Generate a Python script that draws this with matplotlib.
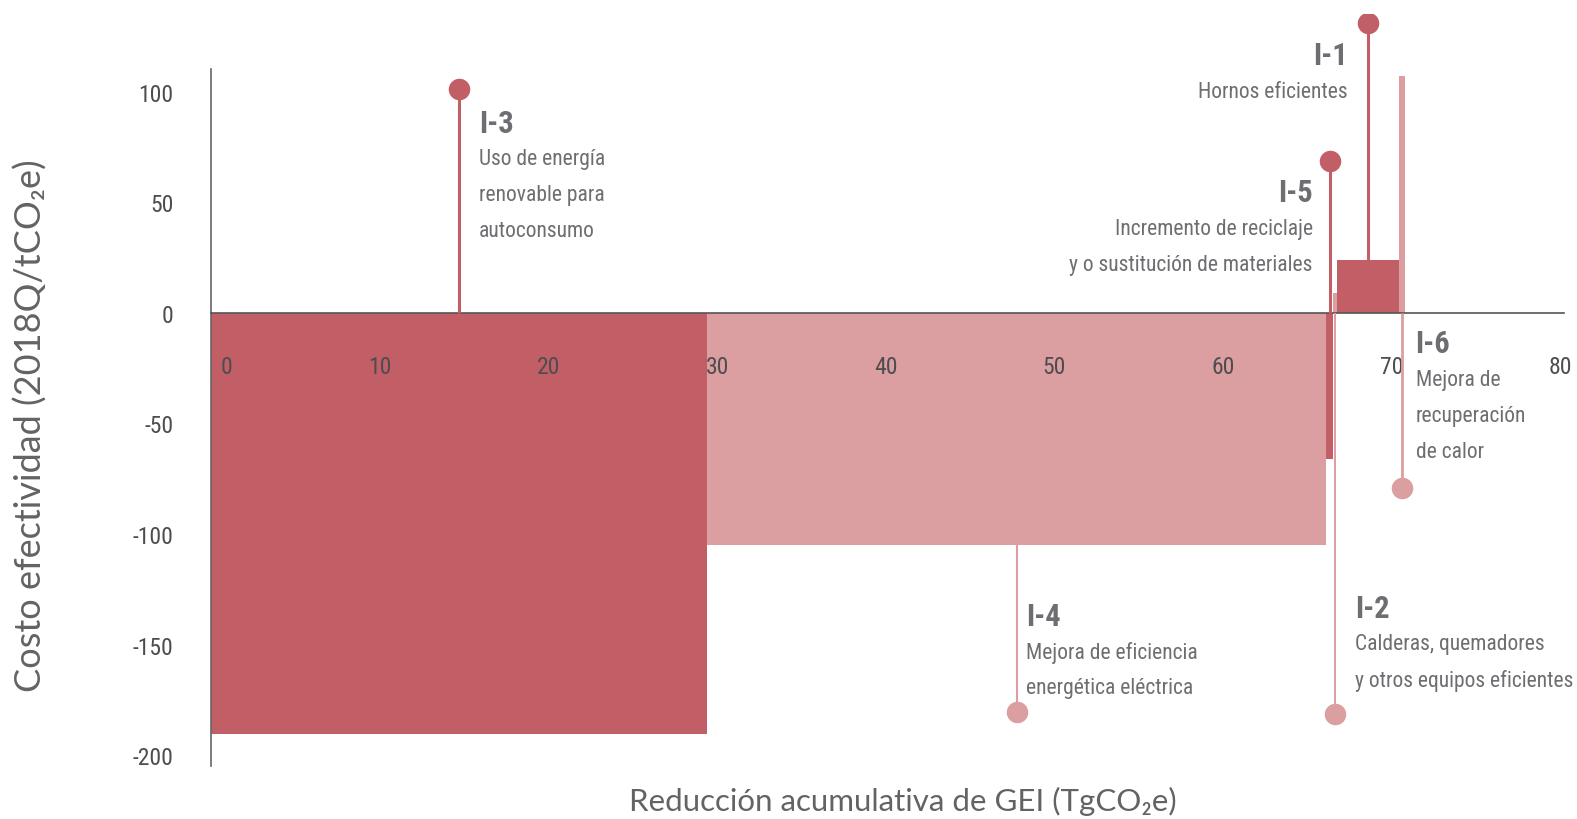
import numpy as np
import matplotlib
matplotlib.use("Agg")
import matplotlib.pyplot as plt
from matplotlib.transforms import offset_copy

DARK = "#C25E66"
LIGHT = "#DB9EA1"
TEXT = "#6D6E71"
TICK = "#4D4D4F"

# ── datos: curva de costo marginal de abatimiento ──────────────────────────
codes = ["I-3", "I-4", "I-5", "I-2", "I-1", "I-6"]
widths = [29.4, 36.7, 0.4, 0.27, 3.63, 0.4]          # TgCO2e
costs = [-190.5, -105, -66, 9, 24, 107]               # Q/tCO2e
tones = ["dark", "light", "dark", "light", "dark", "light"]
tips = [101, -180.5, 68.6, -181.5, 131, -79]          # fin del marcador
names = {
    "I-3": ["Uso de energía", "renovable para", "autoconsumo"],
    "I-4": ["Mejora de eficiencia", "energética eléctrica"],
    "I-5": ["Incremento de reciclaje", "y o sustitución de materiales"],
    "I-2": ["Calderas, quemadores", "y otros equipos eficientes"],
    "I-1": ["Hornos eficientes"],
    "I-6": ["Mejora de", "recuperación", "de calor"],
}
xticks = [0, 10, 20, 30, 40, 50, 60, 70, 80]
yticks = [-200, -150, -100, -50, 0, 50, 100]

# posición de las etiquetas (x, y del título, alineación)
label_pos = {
    "I-3": (15.9, 86, "left"),
    "I-4": (48.3, -136.8, "left"),
    "I-5": (65.3, 54.6, "right"),
    "I-2": (67.8, -133.2, "left"),
    "I-1": (67.4, 116.4, "right"),
    "I-6": (71.4, -13.6, "left"),
}
stem_w = {"I-3": 2.2, "I-4": 1.5, "I-5": 2.2, "I-2": 1.4, "I-1": 2.2, "I-6": 2.0}

NARROW = dict(family=["Roboto Condensed", "Open Sans Condensed", "DejaVu Sans"],
              fontstretch="condensed")
LIGHTF = ["Lato", "DejaVu Sans"]

fig = plt.figure(figsize=(15.77, 8.2), dpi=100)
ax = fig.add_axes([211 / 1577, 0.0506, (1564 - 211) / 1577, 0.9815 - 0.0506])
ax.set_xlim(0, 80.2)
ax.set_ylim(-210, 135)

lefts = np.concatenate([[0], np.cumsum(widths)[:-1]])
col = {"dark": DARK, "light": LIGHT}
ax.bar(lefts, costs, widths, align="edge", color=[col[t] for t in tones],
       linewidth=0, zorder=1)

# marcadores tipo "lollipop"
for c, l, w, v, t, tip in zip(codes, lefts, widths, costs, tones, tips):
    xc = l + w / 2
    start = v if np.sign(v) == np.sign(tip) else 0
    ax.plot([xc, xc], [start, tip], color=col[t], lw=stem_w[c], zorder=3,
            solid_capstyle="butt")
    ax.plot(xc, tip, "o", ms=15.5, color=col[t], mec="none", zorder=4)

    x, y, ha = label_pos[c]
    ax.text(x, y, c, ha=ha, va="center", fontsize=22, fontweight="bold",
            color=TEXT, **NARROW)
    for k, line in enumerate(names[c]):
        ax.annotate(line, (x, y), xytext=(0, -26 * (k + 1)), textcoords="offset points",
                    ha=ha, va="center", fontsize=15.5, color=TEXT, **NARROW)

# ejes
for s in ["top", "right"]:
    ax.spines[s].set_visible(False)
ax.spines["bottom"].set_position(("data", 0))
ax.spines["bottom"].set_color("#555555")
ax.spines["bottom"].set_linewidth(1.2)
ax.spines["left"].set_color("#666666")
ax.spines["left"].set_linewidth(1.2)
ax.spines["left"].set_bounds(-205, 110)

ax.set_xticks(xticks)
ax.set_xticklabels([str(v) for v in xticks], fontsize=17, color=TICK, **NARROW)
ax.tick_params(axis="x", length=0, pad=30)
ax.set_yticks(yticks)
ax.set_yticklabels([str(v) for v in yticks], fontsize=17, color=TICK, **NARROW)
ax.tick_params(axis="y", length=0, pad=27)
lab0 = ax.get_xticklabels()[0]
lab0.set_transform(offset_copy(lab0.get_transform(), fig=fig, x=11, y=0, units="points"))

fig.text(903 / 1577, 1 - 801 / 820, "Reducción acumulativa de GEI (TgCO₂e)",
         ha="center", va="center", fontsize=22.5, family=LIGHTF,
         color="#626365")
fig.text(31 / 1577, 1 - 426 / 820, "Costo efectividad (2018Q/tCO₂e)",
         ha="center", va="center", rotation=90, fontsize=26, family=LIGHTF,
         color="#626365")

fig.savefig("out.png", dpi=100)
